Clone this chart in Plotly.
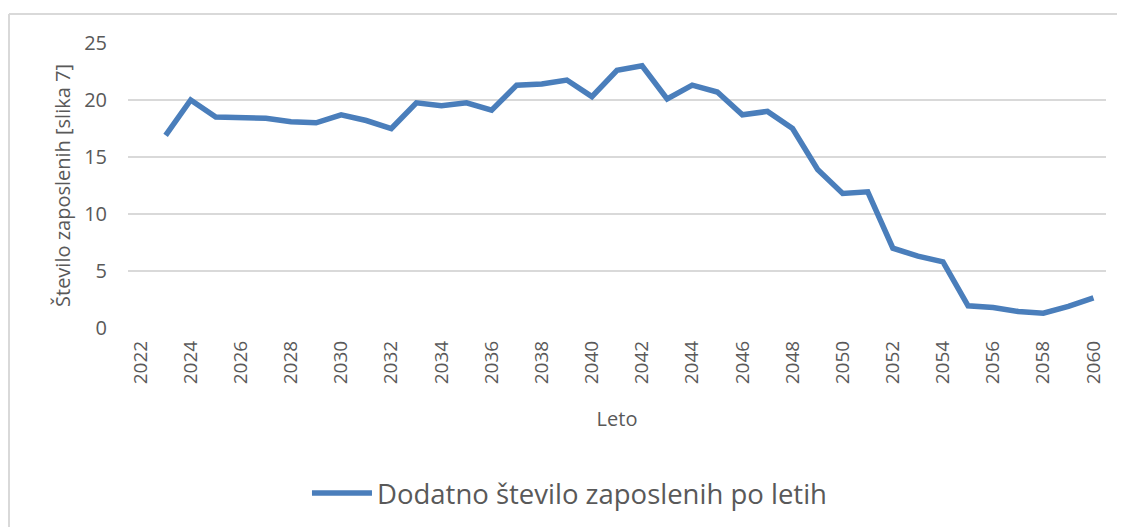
import plotly.graph_objects as go

years = list(range(2023, 2061))
values = [16.9, 20.0, 18.5, 18.4, 18.4, 18.1, 18.0, 18.7, 18.2, 17.5,
          19.75, 19.5, 19.75, 19.1, 21.3, 21.4, 21.75, 20.3, 22.6, 23.0,
          20.1, 21.3, 20.7, 18.7, 19.0, 17.5, 13.9, 11.8, 11.95, 7.0,
          6.3, 5.8, 1.95, 1.8, 1.45, 1.3, 1.9, 2.65]
tick_years = list(range(2022, 2061, 2))
series_name = "Dodatno število zaposlenih po letih"
x_title = "Leto"
y_title = "Število zaposlenih [slika 7]"

FONT = "Open Sans"
TXT = "#595959"

fig = go.Figure()
fig.add_trace(go.Scatter(
    x=years, y=values, mode="lines", name=series_name,
    line=dict(color="#4a7ebb", width=5.5),
))

fig.update_layout(
    width=1125, height=527,
    margin=dict(l=120, r=27, t=35, b=207),
    paper_bgcolor="white", plot_bgcolor="white",
    font=dict(family=FONT, color=TXT, size=17),
    showlegend=True,
    legend=dict(orientation="h", x=0.183, xanchor="left", y=-0.579, yanchor="middle",
                font=dict(size=27.5, color=TXT), itemwidth=60),
    shapes=[
        dict(type="line", xref="paper", yref="paper", x0=-0.1217, x1=1.05, y0=1.1018, y1=1.1018,
             line=dict(color="#d9d9d9", width=2)),
        dict(type="line", xref="paper", yref="paper", x0=-0.1217, x1=-0.1217, y0=1.1018, y1=-0.75,
             line=dict(color="#d9d9d9", width=2)),
    ],
)

fig.update_xaxes(
    range=[2021.5, 2060.5], tickmode="array", tickvals=tick_years,
    ticktext=[str(y) for y in tick_years], tickangle=-90,
    showgrid=False, zeroline=False, showline=False,
    tickfont=dict(size=19, color=TXT), ticklabelstandoff=8,
    title=dict(text=x_title, font=dict(size=20, color=TXT), standoff=28),
)
fig.update_yaxes(
    range=[0, 25], tickvals=[0, 5, 10, 15, 20, 25],
    showgrid=True, gridcolor="#d9d9d9", gridwidth=2, zeroline=False, showline=False,
    tickfont=dict(size=20, color=TXT), ticklabelstandoff=20,
    title=dict(text=y_title, font=dict(size=20, color=TXT), standoff=8),
)

fig.write_html("out.html")
